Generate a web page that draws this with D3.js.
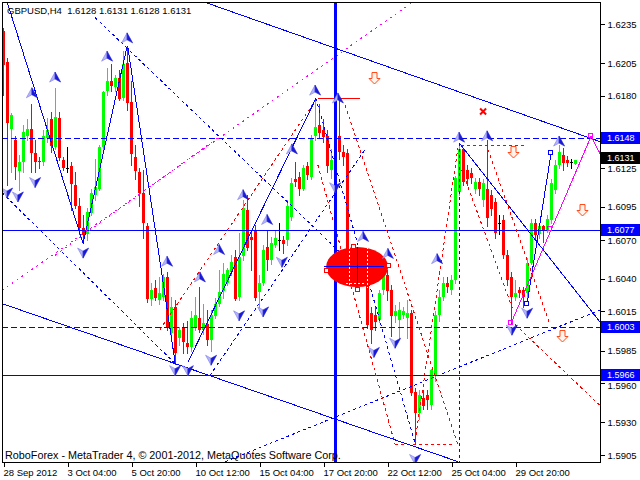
<!DOCTYPE html>
<html><head><meta charset="utf-8">
<script src="https://cdn.jsdelivr.net/npm/d3@7"></script>
<style>
html,body{margin:0;padding:0;background:#fff;}
svg{display:block;}
text{font-family:"Liberation Sans",Arial,sans-serif;}
</style></head><body>
<svg id="c" width="640" height="480"></svg>
<script>
// ---------------- DATA ----------------
const symbol = "GBPUSD,H4";
const lastQuote = [1.6128, 1.6131, 1.6128, 1.6131];
const copyright = "RoboForex - MetaTrader 4, © 2001-2012, MetaQuotes Software Corp.";

const opens = [
1.6230,1.6206,1.6154,1.6146,1.6122,1.6129,1.6150,1.6155,1.6136,1.6130,
1.6129,1.6148,1.6162,1.6141,1.6163,1.6131,1.6125,1.6126,1.6112,1.6096,
1.6079,1.6074,1.6091,1.6104,1.6109,1.6141,1.6183,1.6191,1.6187,1.6194,
1.6178,1.6205,1.6175,1.6133,1.6122,1.6106,1.6080,1.6024,1.6033,1.6024,
1.6026,1.6041,1.5998,1.6018,1.5995,1.6002,1.5991,1.5988,1.6003,1.6010,
1.6001,1.6005,1.5993,1.6012,1.6021,1.6031,1.6037,1.6045,1.6057,1.6026,
1.6057,1.6093,1.6072,1.6077,1.6030,1.6037,1.6064,1.6054,1.6066,1.6070,
1.6070,1.6070,1.6087,1.6116,1.6118,1.6109,1.6126,1.6118,1.6149,1.6158,
1.6154,1.6149,1.6123,1.6131,1.6149,1.6137,1.6136,1.6044,1.6051,1.6060,
1.6053,1.6043,1.6014,1.6012,1.6008,1.6031,1.6043,1.6031,1.6011,1.6008,
1.6012,1.6010,1.6014,1.5953,1.5937,1.5949,1.5951,1.5943,1.5965,1.6012,
1.6026,1.6037,1.6031,1.6039,1.6106,1.6139,1.6123,1.6121,1.6109,1.6114,
1.6100,1.6109,1.6104,1.6099,1.6083,1.6085,1.6058,1.6041,1.6026,1.6031,
1.6031,1.6029,1.6052,1.6083,1.6074,1.6080,1.6077,1.6085,1.6108,1.6127,
1.6135,1.6131,1.6129,1.6128];
const highs = [
1.6232,1.6209,1.6167,1.6149,1.6135,1.6158,1.6162,1.6174,1.6146,1.6133,
1.6154,1.6163,1.6168,1.6186,1.6168,1.6133,1.6141,1.6129,1.6122,1.6102,
1.6089,1.6094,1.6109,1.6132,1.6142,1.6184,1.6201,1.6204,1.6196,1.6200,
1.6214,1.6218,1.6191,1.6142,1.6125,1.6123,1.6083,1.6037,1.6039,1.6041,
1.6044,1.6045,1.6026,1.6024,1.6003,1.6006,1.6008,1.6015,1.6026,1.6034,
1.6021,1.6016,1.6016,1.6025,1.6047,1.6052,1.6048,1.6058,1.6062,1.6075,
1.6100,1.6104,1.6076,1.6081,1.6043,1.6066,1.6077,1.6072,1.6077,1.6083,
1.6073,1.6100,1.6117,1.6129,1.6122,1.6127,1.6129,1.6150,1.6177,1.6174,
1.6162,1.6154,1.6139,1.6155,1.6177,1.6142,1.6139,1.6066,1.6064,1.6062,
1.6056,1.6047,1.6018,1.6018,1.6031,1.6051,1.6047,1.6035,1.6020,1.6022,
1.6018,1.6024,1.6016,1.5956,1.5955,1.5955,1.5955,1.5971,1.6015,1.6031,
1.6041,1.6041,1.6043,1.6119,1.6144,1.6140,1.6127,1.6125,1.6117,1.6117,
1.6116,1.6146,1.6108,1.6102,1.6089,1.6089,1.6062,1.6045,1.6039,1.6034,
1.6034,1.6056,1.6086,1.6086,1.6083,1.6081,1.6089,1.6116,1.6131,1.6142,
1.6140,1.6134,1.6132,1.6131];
const lows = [
1.6181,1.6112,1.6122,1.6116,1.6108,1.6122,1.6146,1.6122,1.6122,1.6125,
1.6127,1.6145,1.6137,1.6139,1.6131,1.6123,1.6122,1.6093,1.6094,1.6074,
1.6067,1.6070,1.6089,1.6100,1.6108,1.6139,1.6181,1.6184,1.6184,1.6177,
1.6177,1.6169,1.6127,1.6116,1.6096,1.6071,1.6022,1.6020,1.6024,1.6021,
1.6024,1.6001,1.5995,1.5975,1.5989,1.5983,1.5983,1.5985,1.6001,1.5999,
1.5998,1.5989,1.5985,1.6010,1.6019,1.6025,1.6035,1.6043,1.6024,1.6024,
1.6054,1.6062,1.6047,1.6024,1.6016,1.6035,1.6047,1.6051,1.6064,1.6062,
1.6060,1.6066,1.6085,1.6111,1.6104,1.6108,1.6116,1.6116,1.6146,1.6148,
1.6145,1.6122,1.6117,1.6127,1.6132,1.6127,1.6051,1.6039,1.6048,1.6047,
1.6035,1.6002,1.5991,1.6001,1.6007,1.6028,1.6024,1.5996,1.6007,1.5995,
1.6010,1.5995,1.5951,1.5914,1.5933,1.5940,1.5940,1.5940,1.5962,1.6008,
1.6024,1.6030,1.6028,1.6037,1.6104,1.6112,1.6112,1.6113,1.6106,1.6104,
1.6096,1.6080,1.6089,1.6071,1.6074,1.6056,1.6035,1.6006,1.6024,1.6026,
1.6018,1.6020,1.6051,1.6070,1.6071,1.6068,1.6076,1.6083,1.6106,1.6125,
1.6123,1.6126,1.6125,1.6128];
const closes = [
1.6204,1.6159,1.6165,1.6125,1.6129,1.6152,1.6155,1.6137,1.6129,1.6129,
1.6149,1.6154,1.6141,1.6164,1.6132,1.6125,1.6125,1.6112,1.6096,1.6079,
1.6074,1.6091,1.6106,1.6110,1.6141,1.6183,1.6191,1.6187,1.6194,1.6178,
1.6204,1.6174,1.6135,1.6122,1.6106,1.6083,1.6024,1.6031,1.6025,1.6029,
1.6041,1.6003,1.6018,1.5983,1.6001,1.5991,1.5988,1.6010,1.6012,1.6001,
1.6006,1.5993,1.6012,1.6021,1.6030,1.6044,1.6047,1.6053,1.6025,1.6057,
1.6094,1.6064,1.6070,1.6025,1.6037,1.6062,1.6054,1.6067,1.6071,1.6070,
1.6067,1.6096,1.6113,1.6114,1.6109,1.6125,1.6119,1.6148,1.6156,1.6152,
1.6149,1.6126,1.6131,1.6149,1.6137,1.6133,1.6054,1.6060,1.6060,1.6053,
1.6043,1.6005,1.6001,1.6007,1.6029,1.6045,1.6031,1.6011,1.6015,1.6016,
1.6015,1.6014,1.5953,1.5937,1.5951,1.5943,1.5947,1.5970,1.6012,1.6026,
1.6037,1.6034,1.6039,1.6117,1.6139,1.6114,1.6116,1.6117,1.6114,1.6109,
1.6113,1.6087,1.6093,1.6075,1.6083,1.6058,1.6039,1.6026,1.6029,1.6029,
1.6026,1.6052,1.6083,1.6074,1.6080,1.6077,1.6086,1.6113,1.6127,1.6137,
1.6129,1.6129,1.6129,1.6131];

const timeTickIndex = [0,16,32,48,64,80,96,112,128];
const timeTickLabels = ["28 Sep 2012","3 Oct 04:00","5 Oct 20:00","10 Oct 12:00","15 Oct 04:00","17 Oct 20:00","22 Oct 12:00","25 Oct 04:00","29 Oct 20:00"];
const priceTicks = [1.6235,1.6205,1.6180,1.6150,1.6125,1.6095,1.6070,1.6040,1.6015,1.5985,1.5960,1.5930,1.5905];

// horizontal levels: [dashed, solid, dashed, solid]
const levelPrices = [1.6148, 1.6077, 1.6003, 1.5966];
const bidPrice = 1.6131;

// trend objects as [barIndex1, price1, barIndex2, price2]
const blueSolidLines = [
 [0.9,1.6252,19.9,1.6067],[19.9,1.6067,30.9,1.6218],[31.1,1.6217,42.9,1.5976],
 [46.1,1.5976,78.1,1.6178],[49.1,1.6253,149.1,1.6145],[-0.4,1.6021,113.6,1.5900],
 [113.9,1.6144,149.1,1.6007],[130.9,1.6021,136.9,1.6136]];
const blueDashedLines = [
 [-0.4,1.6106,42.9,1.5975],[22.9,1.6240,86.6,1.6053],[78.1,1.6178,102.9,1.5914],
 [51.6,1.5966,90.4,1.6139],[55.4,1.5900,149.1,1.6016],[114,1.6144,114,1.5900]];
const redDashedLines = [
 [39.1,1.6001,78.1,1.6177],[85.4,1.6173,113.6,1.5913],[78.6,1.6127,97.9,1.5913],
 [97.9,1.5913,112.1,1.5913],[102.9,1.5916,113.6,1.6140],[114.4,1.6142,130.9,1.6142],
 [114.6,1.6123,127.4,1.6016],[121.1,1.6139,136.6,1.6005],[127.9,1.6005,149.1,1.5943]];
const magentaDashedLines = [[-0.4,1.6031,102.9,1.6253],[12.9,1.6058,54.1,1.6149]];
const magentaPath = [[126.9,1.6006],[146.9,1.6149],[149.1,1.6136]];
const magentaSquares = [[126.9,1.6006],[146.9,1.6149],[136.6,1.6078]];
const blueSquares = [[136.9,1.6136],[130.9,1.6021]];
const redSolidLines = [[78.6,1.6178,89.1,1.6178]];
const thickVerticalIndex = 83;
const redDownArrows = [[92.6,1.6194],[127.4,1.6137],[144.6,1.6093],[139.6,1.5996]];
const redCross = [119.9,1.6168];
const ellipseCenter = [88.4,1.6049];
const ellipseAnchors = [[80.8,1.6046],[87.6,1.6064],[88.6,1.6031],[96.4,1.6050]];
const ellipseCross = [[80,1.6049,95,1.6049],[88.6,1.6064,88.6,1.6035]];

const fractalUp = [[7.1,1.6182],[12.9,1.6194],[25.9,1.6210],[30.9,1.6224],[40.9,1.6053],[49.1,1.6041],
 [53.9,1.6062],[59.9,1.6104],[65.9,1.6085],[72.1,1.6139],[77.9,1.6184],[83.6,1.6178],[89.9,1.6072],
 [96.1,1.6059],[108.4,1.6055],[113.9,1.6148],[120.9,1.6149],[138.9,1.6145]];
const fractalDown = [[0.9,1.6106],[3.6,1.6103],[7.9,1.6114],[19.9,1.6060],[42.9,1.5970],[46.1,1.5970],
 [51.9,1.5978],[58.9,1.6012],[64.9,1.6015],[69.6,1.6053],[82.9,1.6110],[92.6,1.5984],[97.9,1.5991],
 [102.9,1.5902],[127.1,1.6001],[130.9,1.6014]];

// ---------------- DRAW ----------------
const svg = d3.select("#c");
const x = d3.scaleLinear().domain([0, 1]).range([3.5, 7.5]);
const y = d3.scaleLinear().domain([1.589972, 1.625184]).range([462, 2]);

svg.append("rect").attr("width",640).attr("height",480).attr("fill","#fff");
svg.append("defs").append("clipPath").attr("id","pc")
  .append("rect").attr("x",2).attr("y",2).attr("width",598).attr("height",460);
const g = svg.append("g").attr("clip-path","url(#pc)").attr("shape-rendering","crispEdges");

// candles
const bars = d3.range(opens.length).map(i=>({i,o:opens[i],h:highs[i],l:lows[i],c:closes[i]}));
const col = d => d.c>d.o ? "#00ff00" : (d.c<d.o ? "#ff0000" : "#000000");
g.append("g").selectAll("line").data(bars).join("line")
  .attr("x1",d=>x(d.i)).attr("x2",d=>x(d.i))
  .attr("y1",d=>Math.round(y(d.h))).attr("y2",d=>Math.round(y(d.l))+1)
  .attr("stroke",col).attr("stroke-width",1);
g.append("g").selectAll("rect").data(bars).join("rect")
  .attr("x",d=>x(d.i)-1.5).attr("width",3)
  .attr("y",d=>Math.round(Math.min(y(d.o),y(d.c))))
  .attr("height",d=>Math.max(1,Math.round(Math.abs(y(d.o)-y(d.c)))))
  .attr("fill",col);

function segs(data, color, dash, width){
  g.append("g").selectAll("line").data(data).join("line")
   .attr("x1",d=>x(d[0])).attr("y1",d=>y(d[1])).attr("x2",d=>x(d[2])).attr("y2",d=>y(d[3]))
   .attr("stroke",color).attr("stroke-width",width||1).attr("stroke-dasharray",dash||null);
}

// horizontal levels
g.append("g").selectAll("line").data(levelPrices).join("line")
  .attr("x1",2).attr("x2",600).attr("y1",d=>Math.round(y(d))+0.5).attr("y2",d=>Math.round(y(d))+0.5)
  .attr("stroke","#0000ff").attr("stroke-dasharray",(d,k)=>k%2===0?"6,3":null);

segs(magentaDashedLines,"#ff00ff","2,4");
segs(blueDashedLines,"#0000ff","3,3");
segs(redDashedLines,"#ff0000","3,3");
segs(blueSolidLines,"#0000ff");
segs(redSolidLines,"#ff0000");

g.append("line").attr("x1",x(thickVerticalIndex)).attr("x2",x(thickVerticalIndex))
  .attr("y1",2).attr("y2",462).attr("stroke","#0000ff").attr("stroke-width",3);

g.append("path").attr("d",d3.line().x(d=>x(d[0])).y(d=>y(d[1]))(magentaPath))
  .attr("fill","none").attr("stroke","#ff00ff");

// ellipse object
const eg = g.append("g");
eg.append("ellipse").attr("cx",x(ellipseCenter[0])).attr("cy",y(ellipseCenter[1]))
  .attr("rx",31).attr("ry",20).attr("fill","#ff0000").attr("shape-rendering","geometricPrecision");
eg.append("line").attr("x1",x(85.5)).attr("x2",x(90.5)).attr("y1",y(1.6036)).attr("y2",y(1.6036))
  .attr("stroke","#ffffff").attr("stroke-dasharray","2,2");
eg.append("line").attr("x1",x(86.6)).attr("x2",x(86.6)).attr("y1",y(1.6064)).attr("y2",y(1.6033))
  .attr("stroke","#ffffff").attr("stroke-dasharray","2,2");
eg.append("line").attr("x1",x(91)).attr("x2",x(91)).attr("y1",y(1.6064)).attr("y2",y(1.6033))
  .attr("stroke","#ffffff").attr("stroke-dasharray","2,2");
eg.selectAll("line.c").data(ellipseCross).join("line").attr("class","c")
  .attr("x1",d=>x(d[0])).attr("y1",d=>y(d[1])).attr("x2",d=>x(d[2])).attr("y2",d=>y(d[3]))
  .attr("stroke","#0000ff");
eg.selectAll("rect.a").data(ellipseAnchors).join("rect").attr("class","a")
  .attr("x",d=>Math.round(x(d[0]))-2.5).attr("y",d=>Math.round(y(d[1]))-2.5).attr("width",4).attr("height",4)
  .attr("fill","#fff").attr("stroke","#ff0000");

g.append("g").selectAll("rect").data(magentaSquares).join("rect")
  .attr("x",d=>Math.round(x(d[0]))-2.5).attr("y",d=>Math.round(y(d[1]))-2.5).attr("width",4).attr("height",4)
  .attr("fill","none").attr("stroke","#ff00ff");
g.append("g").selectAll("rect").data(blueSquares).join("rect")
  .attr("x",d=>Math.round(x(d[0]))-2.5).attr("y",d=>Math.round(y(d[1]))-2.5).attr("width",4).attr("height",4)
  .attr("fill","#fff").attr("stroke","#0000ff");

// fractal arrows
function fractals(data, up){
  const s = up?1:-1;
  const gg = g.append("g").attr("shape-rendering","geometricPrecision");
  const a = gg.selectAll("g").data(data).join("g").attr("transform",d=>`translate(${x(d[0])},${y(d[1])})`);
  a.append("path").attr("d",`M0,${-5.5*s} L-5.5,${4.5*s} L0,${1.5*s} Z`).attr("fill","#b4b4f8").attr("stroke","#7a7aec").attr("stroke-width",0.6);
  a.append("path").attr("d",`M0,${-5.5*s} L5.5,${4.5*s} L0,${1.5*s} Z`).attr("fill","#1a1ad6").attr("stroke","#1a1ad6").attr("stroke-width",0.6);
}
fractals(fractalUp,true);
fractals(fractalDown,false);

g.append("g").attr("shape-rendering","geometricPrecision").selectAll("path").data(redDownArrows).join("path")
  .attr("transform",d=>`translate(${Math.round(x(d[0]))+0.5},${Math.round(y(d[1]))+0.5})`)
  .attr("d","M-2.5,-6 L2.5,-6 L2.5,0 L5.5,0 L0,5.5 L-5.5,0 L-2.5,0 Z")
  .attr("fill","#fff4ec").attr("stroke","#ff4a1a").attr("stroke-width",1);

const cx = x(redCross[0]), cy = y(redCross[1]);
g.append("path").attr("d",`M${cx-3},${cy-3} L${cx+3},${cy+3} M${cx+3},${cy-3} L${cx-3},${cy+3}`)
  .attr("stroke","#ff0000").attr("stroke-width",2).attr("shape-rendering","geometricPrecision");

// frame
svg.append("rect").attr("x",2.5).attr("y",2.5).attr("width",597.5).attr("height",459.5)
  .attr("fill","none").attr("stroke","#000").attr("shape-rendering","crispEdges");

// level label boxes (centres)
const labData = levelPrices.map(p=>({p,bg:"#0000ff",cy:Math.round(y(p))}))
  .concat([{p:bidPrice,bg:"#000000",cy:Math.round(y(bidPrice))-2}]);

// price axis
const yAxis = d3.axisRight(y).tickValues(priceTicks).tickFormat(d3.format(".4f")).tickSize(4).tickPadding(3);
const ya = svg.append("g").attr("transform","translate(600.5,0)").call(yAxis);
ya.select(".domain").remove();
ya.selectAll("line").attr("shape-rendering","crispEdges");
ya.selectAll(".tick").each(function(d){
  const t = d3.select(this).select("text");
  const ty = y(d);
  let off = 0, hidden = false;
  labData.forEach(b=>{
    const dd = ty - b.cy;
    if (Math.abs(dd) < 5) hidden = true;
    else if (Math.abs(dd) < 10.5) off = (dd>0?1:-1)*(10.5-Math.abs(dd));
  });
  if (hidden) t.remove();
  else t.attr("y", off);
});
ya.selectAll("text").attr("font-size","9.5px").attr("font-family","Liberation Sans, Arial, sans-serif").attr("fill","#000");

const lab = svg.append("g");
lab.selectAll("rect").data(labData).join("rect")
  .attr("x",601).attr("width",39).attr("y",d=>d.cy-6).attr("height",12)
  .attr("fill",d=>d.bg).attr("shape-rendering","crispEdges");
lab.selectAll("text").data(labData).join("text")
  .attr("x",607).attr("y",d=>d.cy).attr("dy","0.35em")
  .attr("font-size","9px").attr("fill","#fff").text(d=>d3.format(".4f")(d.p));

// time axis
const xAxis = d3.axisBottom(x).tickValues(timeTickIndex).tickFormat((d,k)=>timeTickLabels[k]).tickSize(4).tickPadding(3);
const xa = svg.append("g").attr("transform","translate(0,462.5)").call(xAxis);
xa.select(".domain").remove();
xa.selectAll("line").attr("shape-rendering","crispEdges");
xa.selectAll("text").attr("text-anchor","start").attr("x",-0.5).attr("y",13).attr("dy",null)
  .attr("font-size","9.5px").attr("font-family","Liberation Sans, Arial, sans-serif").attr("fill","#000");

svg.append("text").attr("x",7).attr("y",14).attr("font-size","9.5px").attr("fill","#000")
  .style("white-space","pre").text(symbol + "  " + lastQuote.map(d=>d.toFixed(4)).join(" "));
svg.append("text").attr("x",5).attr("y",458.5).attr("font-size","10.8px").attr("fill","#000").text(copyright);
</script>
</body></html>
